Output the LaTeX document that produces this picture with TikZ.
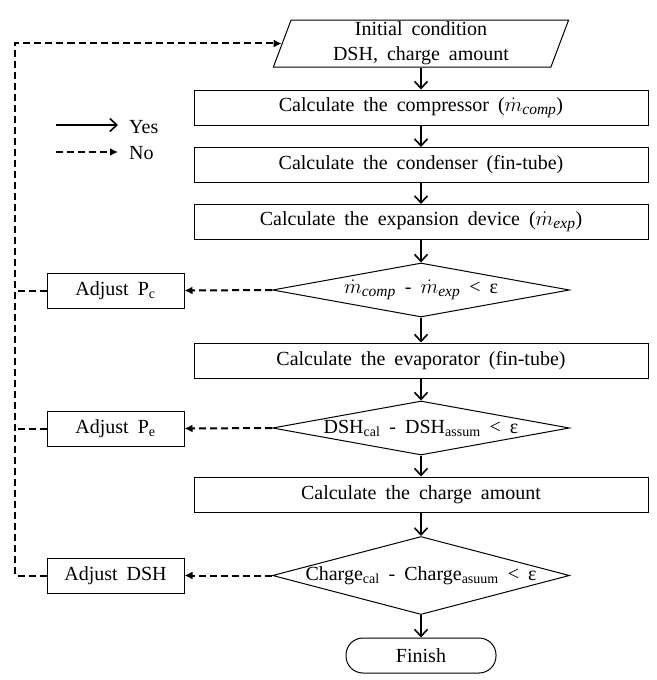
\documentclass[tikz,border=0pt]{standalone}
\usepackage{fontspec}
\setmainfont{Liberation Serif}[WordSpace=1.8]
\usetikzlibrary{arrows.meta,shapes.geometric}
\newcommand{\mdotsub}[1]{$\dot{m}_{\mbox{\fontsize{15.5}{17}\selectfont\itshape #1}}$}
\begin{document}
\begin{tikzpicture}[x=1pt,y=-1pt,
  txt/.style={font=\fontsize{20}{23}\selectfont},
  box/.style={txt, draw, line width=1pt, minimum width=454pt, minimum height=35pt, inner sep=0pt},
  adj/.style={txt, draw, line width=1pt, minimum width=137pt, minimum height=35pt, inner sep=0pt},
  dia/.style={draw, diamond, line width=1pt, minimum width=297pt, inner sep=0pt},
  dtext/.style={txt, inner sep=0pt},
  yesarrow/.style={line width=1.6pt, -{Straight Barb[length=7pt,width=13pt,line width=1.6pt]}},
  noarrow/.style={line width=2pt, dash pattern=on 7pt off 4pt, -{Latex[length=8pt,width=8pt]}},
  noline/.style={line width=2pt, dash pattern=on 7pt off 4pt}
]
\useasboundingbox (0,0) rectangle (656,680);

% main flow
\node[txt, draw, line width=1pt, trapezium, trapezium left angle=74.5, trapezium right angle=105.5,
      trapezium stretches=true, minimum width=296pt, minimum height=47pt, inner sep=0pt, align=center]
      (init) at (421,43.5) {Initial condition\\[2pt]DSH, charge amount};
\node[box] (comp) at (421,107.5) {Calculate the compressor (\mdotsub{comp})};
\node[box] (cond) at (421,165) {Calculate the condenser (fin-tube)};
\node[box] (expa) at (421,222) {Calculate the expansion device (\mdotsub{exp})};
\node[dia, minimum height=54pt] (d1) at (421,290) {};
\node[dtext] (d1t) at (421,290) {\mdotsub{comp} - \mdotsub{exp} < ε};
\node[box] (evap) at (421,360.5) {Calculate the evaporator (fin-tube)};
\node[dia, minimum height=54pt] (d2) at (421,428) {};
\node[dtext] (d2t) at (421,428) {DSH\textsubscript{cal} - DSH\textsubscript{assum} < ε};
\node[box] (chrg) at (421,494.5) {Calculate the charge amount};
\node[dia, minimum height=78pt] (d3) at (421,575.5) {};
\node[dtext] (d3t) at (421,575.5) {Charge\textsubscript{cal} - Charge\textsubscript{asuum} < ε};
\node[txt, draw, line width=1pt, rounded corners=17pt, minimum width=150pt, minimum height=35pt, inner sep=0pt]
      (fin) at (421,655.5) {Finish};

% adjust boxes
\node[adj] (pc) at (115.5,290.5) {Adjust P\textsubscript{c}};
\node[adj] (pe) at (115.5,428.5) {Adjust P\textsubscript{e}};
\node[adj] (dsh) at (115.5,575.5) {Adjust DSH};

% yes arrows
\draw[yesarrow] (init) -- (comp);
\draw[yesarrow] (comp) -- (cond);
\draw[yesarrow] (cond) -- (expa);
\draw[yesarrow] (expa) -- (d1.north);
\draw[yesarrow] (d1.south) -- (evap);
\draw[yesarrow] (evap) -- (d2.north);
\draw[yesarrow] (d2.south) -- (chrg);
\draw[yesarrow] (chrg) -- (d3.north);
\draw[yesarrow] (d3.south) -- (fin);

% no arrows
\draw[noarrow] (d1.west) -- (pc.east);
\draw[noarrow] (d2.west) -- (pe.east);
\draw[noarrow] (d3.west) -- (dsh.east);
\coordinate (loop) at (15,575.5);
\draw[noarrow] (dsh.west) -- (loop) |- (init.west);
\draw[noline] (pc.west) -- (pc.west -| loop);
\draw[noline] (pe.west) -- (pe.west -| loop);

% legend
\coordinate (ly1) at (56,125);
\coordinate (ly2) at (118,125);
\coordinate (ln1) at (56,152);
\coordinate (ln2) at (118,152);
\draw[yesarrow] (ly1) -- (ly2);
\draw[noarrow] (ln1) -- (ln2);
\node[txt, anchor=west, inner sep=0pt] (lyes) at (129,127) {Yes};
\node[txt, anchor=west, inner sep=0pt] (lno) at (129,153) {No};
\end{tikzpicture}
\end{document}
